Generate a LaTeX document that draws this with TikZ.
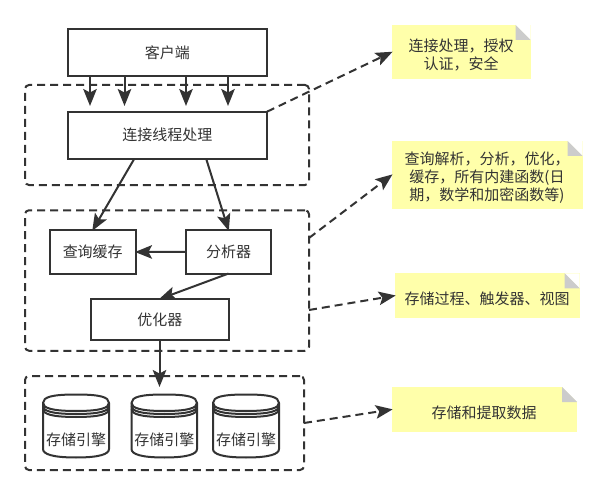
\documentclass[tikz,border=0pt]{standalone}
\usepackage{fontspec}
\setmainfont{Noto Sans CJK SC}
\usetikzlibrary{arrows.meta,calc}
\definecolor{ink}{HTML}{333333}
\definecolor{notey}{HTML}{FFFFAA}
\definecolor{foldg}{HTML}{CCCCCC}
\newcommand{\tx}[1]{\raisebox{-1.2pt}{#1}}
\tikzset{
  lbl/.style={font=\fontsize{15}{18}\selectfont,text=ink,align=center,inner sep=0pt},
  sbox/.style={draw=ink,line width=2pt,fill=white,inner sep=0pt,outer sep=0pt,font=\fontsize{15}{18}\selectfont,text=ink},
  dbox/.style={draw=ink,line width=2pt,dash pattern=on 8pt off 5pt,rounded corners=4pt},
  arr/.style={draw=ink,line width=2pt,-{Stealth[length=17pt,width=13.5pt,inset=3.5pt]},shorten >=-1pt},
  darr/.style={arr,dash pattern=on 8pt off 5pt},
  notebody/.style={fill=notey,inner sep=0pt,outer sep=0pt},
  cylshape/.style={draw=ink,line width=2pt,fill=white,line join=round}
}
\newcommand{\notefold}[4]{% x1 y1 x2 y2
  \fill[white] ({#3-15},{#2}) -- (#3,{#2}) -- (#3,{#2+15}) -- cycle;
  \fill[foldg] ({#3-15},{#2}) -- (#3,{#2+15}) -- ({#3-15},{#2+15}) -- cycle;
}
\newcommand{\cyl}[3]{% name x1 x2
  \pgfmathsetmacro{\xa}{#2}\pgfmathsetmacro{\xb}{#3}
  \pgfmathsetmacro{\xc}{(#2+#3)/2}\pgfmathsetmacro{\ka}{#2+9}\pgfmathsetmacro{\kb}{#3-9}
  \path[cylshape] (\xa,403) .. controls (\xa,397) and (\ka,394.5) .. (\xc,394.5)
     .. controls (\kb,394.5) and (\xb,397) .. (\xb,403) -- (\xb,449)
     .. controls (\xb,454) and (\kb,457.5) .. (\xc,457.5)
     .. controls (\ka,457.5) and (\xa,454) .. (\xa,449) -- cycle;
  \foreach \d in {0,3,6}{
    \draw[ink,line width=2pt] (\xa,{403+\d}) .. controls (\xa,{408+\d}) and (\ka,{411+\d}) .. (\xc,{411+\d})
       .. controls (\kb,{411+\d}) and (\xb,{408+\d}) .. (\xb,{403+\d});
  }
  \node[lbl] (#1) at (\xc,440) {存储引擎};
}
\begin{document}
\begin{tikzpicture}[x=1pt,y=-1pt]
\useasboundingbox (0,0) rectangle (606,495);
\fill[white] (0,0) rectangle (606,495);

% dashed groups
\node[dbox,minimum width=284pt,minimum height=100pt,outer sep=0pt] (g1) at (167,135) {};
\node[dbox,minimum width=284pt,minimum height=140.5pt,outer sep=0pt] (g2) at (167,280.5) {};
\node[dbox,minimum width=279pt,minimum height=94pt,outer sep=0pt] (g3) at (164.5,423) {};

% boxes
\node[sbox,minimum width=199.5pt,minimum height=47pt] (client) at (167.25,52.5) {\tx{客户端}};
\node[sbox,minimum width=199.5pt,minimum height=47pt] (conn) at (167.25,135.2) {\tx{连接线程处理}};
\node[sbox,minimum width=86.5pt,minimum height=44pt] (cache) at (92.75,252) {\tx{查询缓存}};
\node[sbox,minimum width=85pt,minimum height=43.5pt] (parser) at (228.5,251.8) {\tx{分析器}};
\node[sbox,minimum width=138.5pt,minimum height=41pt] (opt) at (159.75,319.5) {\tx{优化器}};

% cylinders
\cyl{e1}{43}{109}
\cyl{e2}{131.5}{197}
\cyl{e3}{213}{279}

% notes
\node[notebody,minimum width=139pt,minimum height=54.3pt] (n1) at (461.2,52.15) {};
\notefold{391.7}{25}{530.7}{79.3}
\node[lbl] (n1t) at (461,55) {连接处理，授权\\认证，安全};
\node[notebody,minimum width=191pt,minimum height=68pt] (n2) at (487.2,175) {};
\notefold{391.7}{141}{582.7}{209}
\node[lbl] (n2t) at (487,178) {查询解析，分析，优化，\\缓存，所有内建函数(日\\期，数学和加密函数等)};
\node[notebody,minimum width=185pt,minimum height=44.7pt] (n3) at (487.2,295.65) {};
\notefold{394.7}{273.3}{579.7}{318}
\node[lbl] (n3t) at (487,298.5) {存储过程、触发器、视图};
\node[notebody,minimum width=185.3pt,minimum height=45pt] (n4) at (484.35,409.5) {};
\notefold{391.7}{387}{577}{432}
\node[lbl] (n4t) at (484,413) {存储和提取数据};

% free ends
\coordinate (a1) at (90,105);
\coordinate (a2) at (124.5,105);
\coordinate (a3) at (186,105);
\coordinate (a4) at (228,105);
\coordinate (a5) at (159.5,386);
\coordinate (s2) at (309,238);
\coordinate (s3) at (309,310);
\coordinate (s4) at (304,423);

% connectors
\draw[arr] (client.south -| a1) -- (a1);
\draw[arr] (client.south -| a2) -- (a2);
\draw[arr] (client.south -| a3) -- (a3);
\draw[arr] (client.south -| a4) -- (a4);
\draw[arr] ($(conn.south west)!0.335!(conn.south east)$) -- (cache.north);
\draw[arr] ($(conn.south west)!0.695!(conn.south east)$) -- (parser.north);
\draw[arr] (parser.west) -- (cache.east);
\draw[arr] (parser.south) -- (opt.north);
\draw[arr] (opt.south -| a5) -- (a5);
\draw[darr] (conn.north east) -- (n1.west);
\draw[darr] (s2) -- (n2.west);
\draw[darr] (s3) -- (n3.west);
\draw[darr] (s4) -- (n4.west);
\end{tikzpicture}
\end{document}
